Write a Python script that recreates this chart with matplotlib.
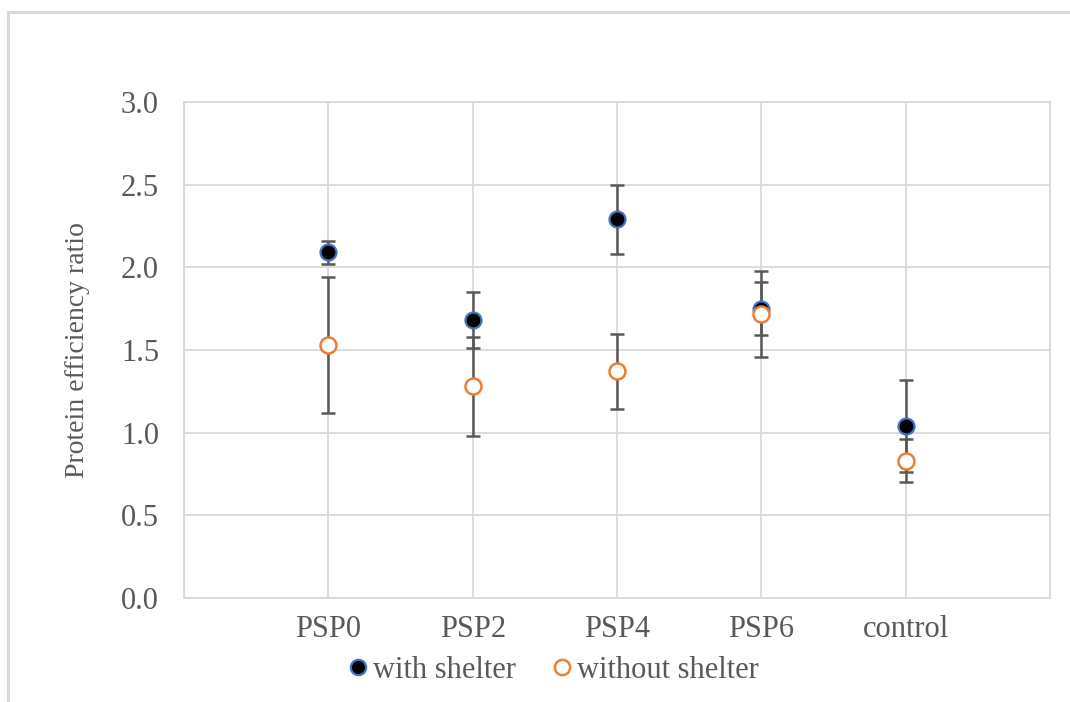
import matplotlib.pyplot as plt
from matplotlib.lines import Line2D

categories = ["PSP0", "PSP2", "PSP4", "PSP6", "control"]
with_shelter = [2.09, 1.68, 2.29, 1.75, 1.04]
with_shelter_err = [0.07, 0.17, 0.21, 0.16, 0.28]
without_shelter = [1.53, 1.28, 1.37, 1.72, 0.83]
without_shelter_err = [0.41, 0.30, 0.225, 0.26, 0.13]
y_ticks = [0.0, 0.5, 1.0, 1.5, 2.0, 2.5, 3.0]

GRID = "#d9d9d9"
TEXT = "#595959"
BAR = "#595959"
FS = 22

plt.rcParams["font.family"] = ["Liberation Serif", "DejaVu Serif"]

fig = plt.figure(figsize=(10.7, 7.02), dpi=100)
ax = fig.add_axes([184 / 1070, 1 - 598 / 702, 866 / 1070, 496 / 702])

x = list(range(1, len(categories) + 1))

# error bars first, markers on top (Excel draws them that way)
for vals, errs in [(with_shelter, with_shelter_err), (without_shelter, without_shelter_err)]:
    ax.errorbar(x, vals, yerr=errs, fmt="none", ecolor=BAR, elinewidth=1.8,
                capsize=5, capthick=1.8, zorder=3)

ax.plot(x, with_shelter, linestyle="none", marker="o", markersize=11.5,
        markerfacecolor="black", markeredgecolor="#4472C4", markeredgewidth=1.6, zorder=4)
ax.plot(x, without_shelter, linestyle="none", marker="o", markersize=11.5,
        markerfacecolor="white", markeredgecolor="#ED7D31", markeredgewidth=1.8, zorder=5)

ax.set_xlim(0, len(categories) + 1)
ax.set_ylim(0, 3.0)
ax.set_xticks(range(0, len(categories) + 2))
ax.set_xticklabels([""] + categories + [""])
ax.set_yticks(y_ticks)
ax.set_yticklabels([f"{v:.1f}" for v in y_ticks])
ax.tick_params(length=0, labelsize=FS, labelcolor=TEXT)
ax.tick_params(axis="x", pad=12)
ax.tick_params(axis="y", pad=18)
ax.grid(True, color=GRID, linewidth=1.3, zorder=0)
ax.set_axisbelow(True)
for spine in ax.spines.values():
    spine.set_color(GRID)
    spine.set_linewidth(1.3)

ax.set_ylabel("Protein efficiency ratio", fontsize=20, color=TEXT, labelpad=22)

handles = [
    Line2D([], [], linestyle="none", marker="o", markersize=11, markerfacecolor="black",
           markeredgecolor="#4472C4", markeredgewidth=1.6),
    Line2D([], [], linestyle="none", marker="o", markersize=11, markerfacecolor="white",
           markeredgecolor="#ED7D31", markeredgewidth=1.8),
]
fig.legend(handles, ["with shelter", "without shelter"], loc="center",
           bbox_to_anchor=(551 / 1070, 1 - 670 / 702), ncol=2, frameon=False,
           fontsize=FS, labelcolor=TEXT, handletextpad=0.0, columnspacing=1.0,
           handlelength=1.0)

# light chart border (top and left edges visible in the reference)
fig.add_artist(Line2D([7.5 / 1070, 1.0], [1 - 12 / 702, 1 - 12 / 702],
                      transform=fig.transFigure, color=GRID, linewidth=2.2))
fig.add_artist(Line2D([7.5 / 1070, 7.5 / 1070], [0.0, 1 - 12 / 702],
                      transform=fig.transFigure, color=GRID, linewidth=2.2))

fig.savefig("out.png", dpi=100)
